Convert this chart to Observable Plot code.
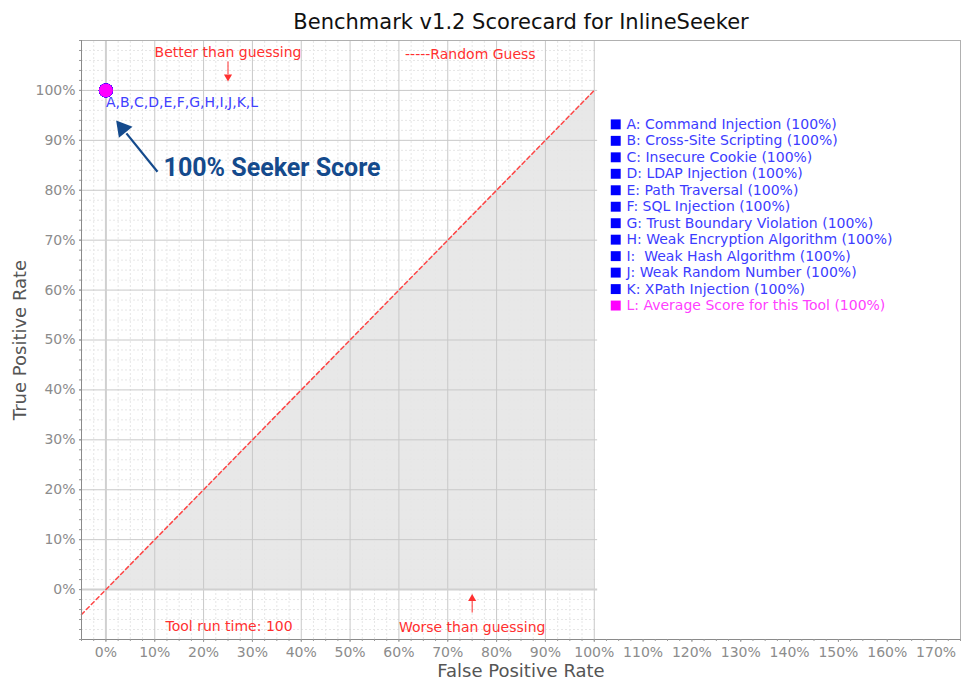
<!DOCTYPE html>
<html><head><meta charset="utf-8">
<script src="https://cdn.jsdelivr.net/npm/d3@7"></script>
<script src="https://cdn.jsdelivr.net/npm/@observablehq/plot@0.6"></script>
<style>body{margin:0;background:#fff;} svg{display:block}</style>
</head><body><div id="chart"></div>
<script>
// ---- data ----
const title = "Benchmark v1.2 Scorecard for InlineSeeker";
const letters = ["A","B","C","D","E","F","G","H","I","J","K","L"];
const categories = ["Command Injection","Cross-Site Scripting","Insecure Cookie","LDAP Injection","Path Traversal","SQL Injection","Trust Boundary Violation","Weak Encryption Algorithm","\u00a0Weak Hash Algorithm","Weak Random Number","XPath Injection","Average Score for this Tool"];
const scores = [100,100,100,100,100,100,100,100,100,100,100,100];
const falsePositiveRates = [0,0,0,0,0,0,0,0,0,0,0,0];
const truePositiveRates = [100,100,100,100,100,100,100,100,100,100,100,100];
const xTicks = [0,10,20,30,40,50,60,70,80,90,100,110,120,130,140,150,160,170];
const yTicks = [0,10,20,30,40,50,60,70,80,90,100];
const xMinorTicks = d3.range(-5, 175.1, 2.5);
const yMinorTicks = d3.range(-10, 110.1, 2);
const randomGuess = [{x:-5,y:-5},{x:100,y:100}];
const toolRunTime = 100;
const xLabel = "False Positive Rate", yLabel = "True Positive Rate";

// ---- derived ----
const blue = "#0000ff", magenta = "#ff00ff", red = "#ff3030", navy = "#144a8c";
const points = letters.map((l,i)=>({letter:l, fpr:falsePositiveRates[i], tpr:truePositiveRates[i], avg: i===letters.length-1}));
const legend = letters.map((l,i)=>({label:`${l}: ${categories[i]} (${scores[i]}%)`, i, avg: i===letters.length-1}));
const triangle = [{x:0,y1:0,y2:0},{x:100,y1:0,y2:100}];
const gridRight = 100.7;
const xMinorGrid = xMinorTicks.filter(v => v > -5 && v < 100 && v % 10 !== 0);
const yMinorGrid = yMinorTicks.filter(v => v > -10 && v < 110 && v % 10 !== 0);
const legendY = i => 93.2 - i*3.3;

const chart = Plot.plot({
  width: 965, height: 681,
  marginLeft: 81, marginRight: 5, marginTop: 40, marginBottom: 42,
  x: {domain: [-5, 175]},
  y: {domain: [-10, 110]},
  style: {fontFamily: "DejaVu Sans, sans-serif", fontSize: "13px", background: "#fff"},
  marks: [
    Plot.areaY(triangle, {x: "x", y1: "y1", y2: "y2", fill: "#e8e8e8"}),
    Plot.ruleX(xMinorGrid, {y1: -10, y2: 110, stroke: "#e6e6e6", strokeDasharray: "2,2"}),
    Plot.ruleY(yMinorGrid, {x1: -5, x2: gridRight, stroke: "#e6e6e6", strokeDasharray: "2,2"}),
    Plot.ruleX(yTicks.filter(v => v !== 0), {stroke: "#c8c8c8"}),
    Plot.ruleY(yTicks.filter(v => v !== 0), {x1: -5, x2: gridRight, stroke: "#c8c8c8"}),
    Plot.ruleX([0], {stroke: "#d0d0d0", strokeWidth: 2}),
    Plot.ruleY([0], {x1: -5, x2: gridRight, stroke: "#d0d0d0", strokeWidth: 2}),
    Plot.line(randomGuess, {x: "x", y: "y", stroke: "#ff4545", strokeDasharray: "4,3"}),
    Plot.frame({stroke: "#b0b0b0"}),
    Plot.ruleX([-5], {stroke: "#8a8a8a"}),
    Plot.ruleY([-10], {stroke: "#8a8a8a"}),
    Plot.axisX({ticks: xMinorTicks, tickSize: 2, tickFormat: () => "", stroke: "#999"}),
    Plot.axisX({ticks: xTicks, tickSize: 3, tickPadding: 5, tickFormat: d => d + "%", fill: "#8c8c8c", stroke: "#999", fontSize: 14}),
    Plot.axisY({ticks: yMinorTicks, tickSize: 2, tickFormat: () => "", stroke: "#999"}),
    Plot.axisY({ticks: yTicks, tickSize: 2, tickPadding: 4, tickFormat: d => d + "%", fill: "#8c8c8c", stroke: "#999", fontSize: 14}),
    // points
    Plot.dot(points, {x: "fpr", y: "tpr", r: 7, fill: d => d.avg ? magenta : blue}),
    Plot.text([letters.join(",")], {x: falsePositiveRates[0], y: truePositiveRates[0], dx: 0, dy: 12, textAnchor: "start", fill: "#4040ff", fontSize: 14}),
    // annotations
    Plot.text(["Better than guessing"], {x: 25, y: 107.6, fill: red, fontSize: 14}),
    Plot.link([{x1: 25, y1: 105.8, x2: 25, y2: 103.3}], {x1: "x1", y1: "y1", x2: "x2", y2: "y2", stroke: red}),
    Plot.dot([{x: 25, y: 102.7}], {x: "x", y: "y", symbol: "triangle", r: 3, fill: red, rotate: 180}),
    Plot.text(["-----Random Guess"], {x: 88.0, y: 107.2, textAnchor: "end", fill: red, fontSize: 14}),
    Plot.text([`Tool run time: ${toolRunTime}`], {x: 12.2, y: -7.3, textAnchor: "start", fill: red, fontSize: 14}),
    Plot.text(["Worse than guessing"], {x: 75, y: -7.5, fill: red, fontSize: 14}),
    Plot.link([{x1: 75, y1: -4.6, x2: 75, y2: -2.3}], {x1: "x1", y1: "y1", x2: "x2", y2: "y2", stroke: red}),
    Plot.dot([{x: 75, y: -1.8}], {x: "x", y: "y", symbol: "triangle", r: 3, fill: red}),
    Plot.link([{x1: 10.56, y1: 83.7, x2: 4.2, y2: 91.4}], {x1: "x1", y1: "y1", x2: "x2", y2: "y2", stroke: navy, strokeWidth: 2.2}),
    Plot.dot([{x: 3.4, y: 92.4}], {x: "x", y: "y", symbol: "triangle", r: 6.5, fill: navy, rotate: -39}),
    Plot.text([`${scores[scores.length-1]}% Seeker Score`], {x: 11.8, y: 84.5, textAnchor: "start", fill: navy, fontSize: 25, fontWeight: "bold", fontFamily: "Roboto"}),
    // legend
    Plot.dot(legend, {x: 104.4, y: d => legendY(d.i), symbol: "square", r: 5.6, fill: d => d.avg ? magenta : blue}),
    Plot.text(legend, {x: 106.6, y: d => legendY(d.i), text: "label", textAnchor: "start", fill: d => d.avg ? "#ff40ff" : "#3c3cff", fontSize: 14}),
    // titles
    Plot.text([title], {frameAnchor: "top", lineAnchor: "middle", textAnchor: "middle", dy: -18, fontSize: 21, fill: "#111"}),
    Plot.text([xLabel], {frameAnchor: "bottom", lineAnchor: "middle", textAnchor: "middle", dy: 32, fontSize: 18, fill: "#555"}),
    Plot.text([yLabel], {frameAnchor: "left", lineAnchor: "middle", textAnchor: "middle", dx: -61, rotate: -90, fontSize: 18, fill: "#555"})
  ]
});
document.getElementById("chart").append(chart);
</script>
</body></html>
